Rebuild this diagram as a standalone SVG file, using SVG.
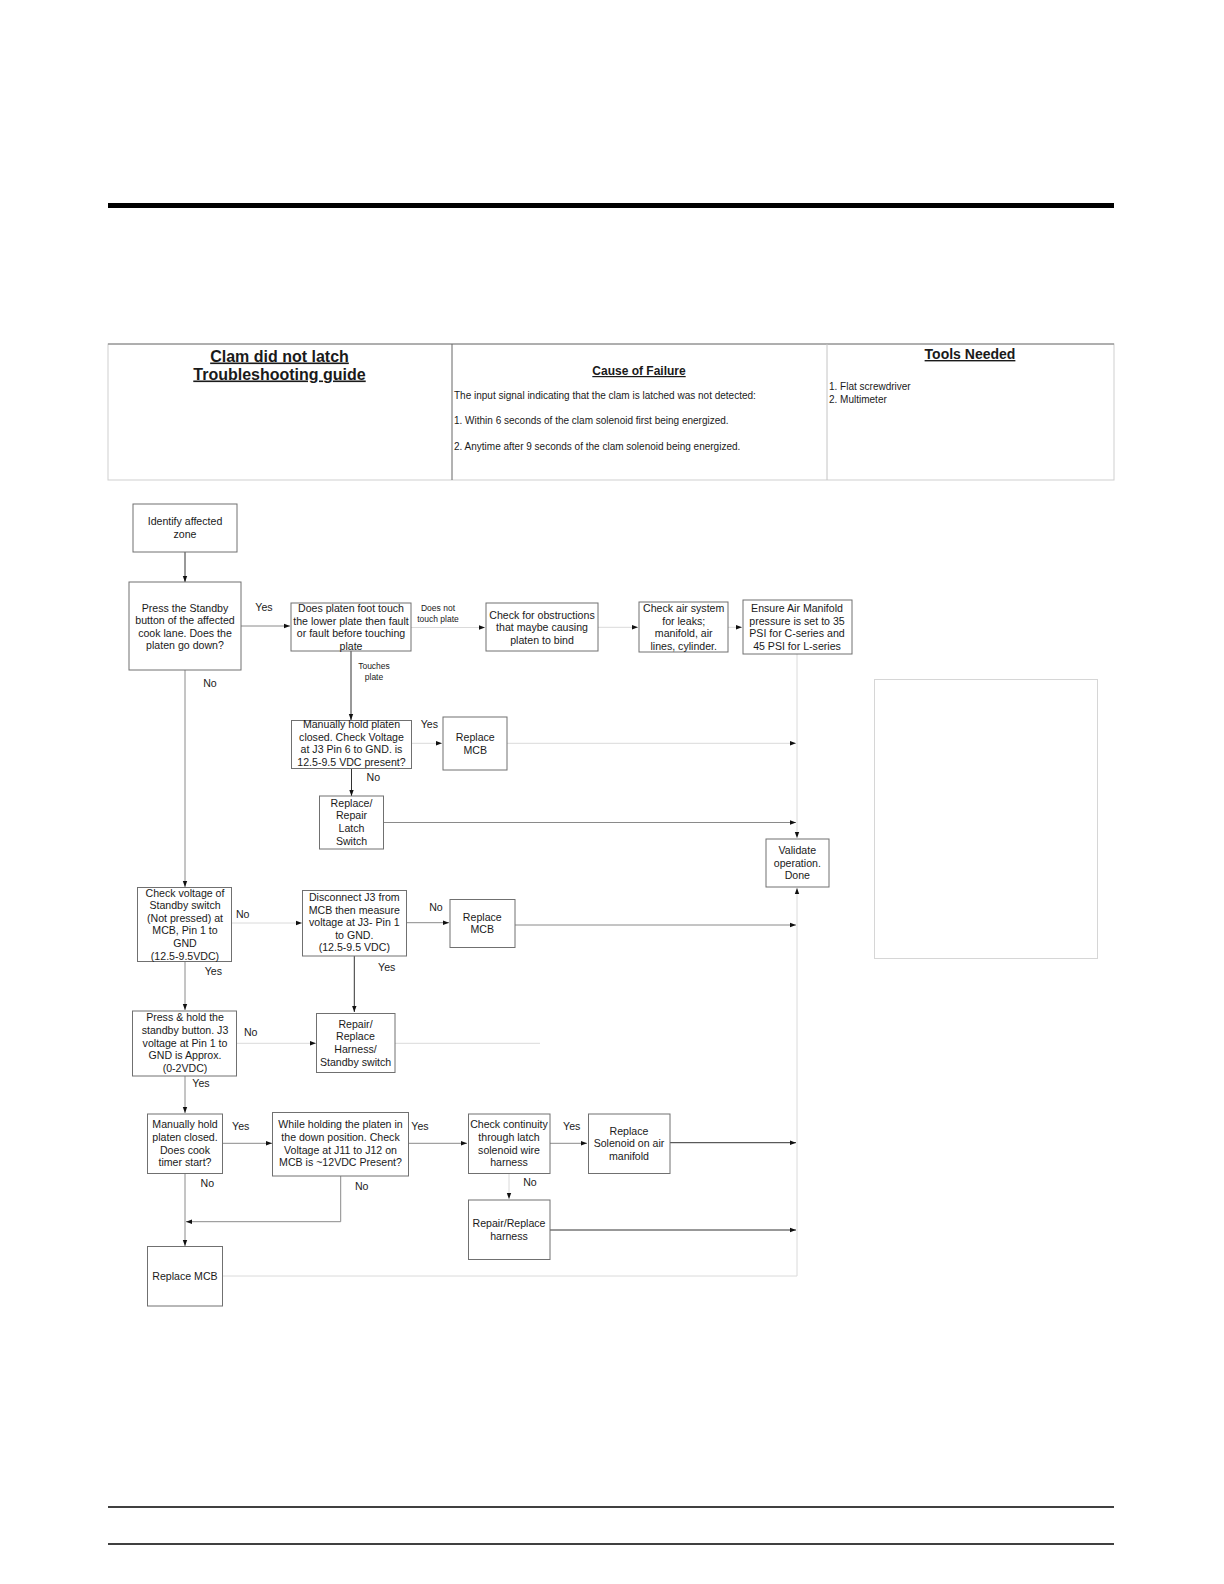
<svg xmlns="http://www.w3.org/2000/svg" width="1224" height="1584" viewBox="0 0 1224 1584">
<style>
text{font-family:"Liberation Sans",Arial,sans-serif;fill:#1a1a1a}
.t{font-size:10.6px;text-anchor:middle}
.lb{font-size:10.6px;text-anchor:middle}
.sm{font-size:8.5px;text-anchor:middle}
.body{font-size:10px}
.h{font-weight:bold;text-decoration:underline;text-anchor:middle}
.box{fill:#fff;stroke:#707070;stroke-width:1}
.c{fill:none;stroke:#333;stroke-width:1;marker-end:url(#ah)}
.g{fill:none;stroke:#8a8a8a;stroke-width:1;marker-end:url(#ah)}
.l{fill:none;stroke:#dadada;stroke-width:1;marker-end:url(#ah)}
.ln{fill:none;stroke:#dadada;stroke-width:1}
</style>
<defs>
<marker id="ah" viewBox="0 0 6 6" refX="6" refY="3" markerWidth="6" markerHeight="6" markerUnits="userSpaceOnUse" orient="auto">
<path d="M0,0.8 L6,3 L0,5.2 Z" fill="#111"/>
</marker>
</defs>
<rect width="1224" height="1584" fill="#fff"/>

<g id="page-rules">
<rect x="108" y="203" width="1006" height="5" fill="#000"/>
<line x1="108" y1="1507" x2="1114" y2="1507" stroke="#000" stroke-width="1.5"/>
<line x1="108" y1="1544" x2="1114" y2="1544" stroke="#000" stroke-width="1.5"/>
</g>

<g id="header">
<rect x="108" y="344" width="1006" height="136" fill="#fff" stroke="#cfcfcf" stroke-width="1"/>
<line x1="108" y1="344" x2="1114" y2="344" stroke="#777" stroke-width="1"/>
<line x1="452" y1="344" x2="452" y2="480" stroke="#666" stroke-width="1"/>
<line x1="827" y1="344" x2="827" y2="480" stroke="#c4c4c4" stroke-width="1"/>
<text class="h" x="279.5" y="361.5" font-size="16">Clam did not latch</text>
<text class="h" x="279.5" y="379.5" font-size="16">Troubleshooting guide</text>
<text class="h" x="639" y="375" font-size="12">Cause of Failure</text>
<text class="body" x="454" y="399">The input signal indicating that the clam is latched was not detected:</text>
<text class="body" x="454" y="424">1. Within 6 seconds of the clam solenoid first being energized.</text>
<text class="body" x="454" y="449.5">2. Anytime after 9 seconds of the clam solenoid being energized.</text>
<text class="h" x="970" y="359" font-size="14">Tools Needed</text>
<text class="body" x="829" y="389.5">1. Flat screwdriver</text>
<text class="body" x="829" y="403">2. Multimeter</text>
</g>

<g id="connectors">
<path class="c" d="M185,552 V582"/>
<path class="g" d="M241,626 H290"/>
<path class="l" d="M411,627.5 H485"/>
<path class="l" d="M598,627.3 H638"/>
<path class="l" d="M728,627.3 H742"/>
<path class="l" d="M797,654 V838"/>
<path class="c" d="M351,651 V720"/>
<path class="l" d="M412,743.3 H442"/>
<path class="l" d="M507,743.3 H796"/>
<path class="c" d="M351.5,768 V796"/>
<path class="g" d="M383,822.5 H796"/>
<path class="g" d="M185,670 V887"/>
<path class="l" d="M232,923 H302"/>
<path class="g" d="M407,922.7 H449"/>
<path class="g" d="M515,925 H796"/>
<path class="c" d="M354.3,956 V1012"/>
<path class="g" d="M185,962 V1010"/>
<path class="l" d="M237,1043.3 H316"/>
<path class="ln" d="M395,1043.3 H540"/>
<path class="g" d="M185,1076 V1113"/>
<path class="g" d="M223,1143.3 H272"/>
<path class="g" d="M408,1143.3 H467"/>
<path class="g" d="M550,1143.3 H587"/>
<path class="c" d="M670,1142.7 H796"/>
<path class="l" d="M509,1173 V1199"/>
<path class="c" d="M550,1230 H796"/>
<path class="g" d="M340.7,1176 V1221.7 H186"/>
<path class="g" d="M185,1173 V1246"/>
<path class="l" d="M223,1276 H797 V888"/>
</g>

<g id="n-identify">
<rect class="box" x="133" y="504" width="104" height="48"/>
<text class="t" x="185" y="524.8">Identify affected</text>
<text class="t" x="185" y="538">zone</text>
</g>

<g id="n-press-standby">
<rect class="box" x="129" y="582" width="112" height="88"/>
<text class="t" x="185" y="611.5">Press the Standby</text>
<text class="t" x="185" y="624.1">button of the affected</text>
<text class="t" x="185" y="636.7">cook lane. Does the</text>
<text class="t" x="185" y="649.3">platen go down?</text>
</g>

<g id="n-platen-foot">
<rect class="box" x="291" y="603" width="120" height="48"/>
<text class="t" x="351" y="612">Does platen foot touch</text>
<text class="t" x="351" y="624.6">the lower plate then fault</text>
<text class="t" x="351" y="637.2">or fault before touching</text>
<text class="t" x="351" y="649.8">plate</text>
</g>

<g id="n-obstructions">
<rect class="box" x="486" y="603" width="112" height="48"/>
<text class="t" x="542" y="618.8">Check for obstructions</text>
<text class="t" x="542" y="631.4">that maybe causing</text>
<text class="t" x="542" y="644">platen to bind</text>
</g>

<g id="n-air-system">
<rect class="box" x="639" y="602" width="89" height="50"/>
<text class="t" x="683.7" y="612">Check air system</text>
<text class="t" x="683.7" y="624.6">for leaks;</text>
<text class="t" x="683.7" y="637.2">manifold, air</text>
<text class="t" x="683.7" y="649.8">lines, cylinder.</text>
</g>

<g id="n-air-manifold">
<rect class="box" x="743" y="600" width="109" height="54"/>
<text class="t" x="797" y="612">Ensure Air Manifold</text>
<text class="t" x="797" y="624.6">pressure is set to 35</text>
<text class="t" x="797" y="637.2">PSI for C-series and</text>
<text class="t" x="797" y="649.8">45 PSI for L-series</text>
</g>

<g id="n-hold-platen-j3">
<rect class="box" x="291.5" y="720.5" width="120" height="48"/>
<text class="t" x="351.5" y="728">Manually hold platen</text>
<text class="t" x="351.5" y="740.7">closed. Check Voltage</text>
<text class="t" x="351.5" y="753.4">at J3 Pin 6 to GND. is</text>
<text class="t" x="351.5" y="766.1">12.5-9.5 VDC present?</text>
</g>

<g id="n-replace-mcb-1">
<rect class="box" x="443" y="717" width="64" height="53"/>
<text class="t" x="475.3" y="741">Replace</text>
<text class="t" x="475.3" y="753.7">MCB</text>
</g>

<g id="n-latch-switch">
<rect class="box" x="319.5" y="796" width="64" height="53"/>
<text class="t" x="351.5" y="806.5">Replace/</text>
<text class="t" x="351.5" y="819.2">Repair</text>
<text class="t" x="351.5" y="831.9">Latch</text>
<text class="t" x="351.5" y="844.6">Switch</text>
</g>

<g id="n-validate">
<rect class="box" x="766" y="839" width="63" height="48"/>
<text class="t" x="797.3" y="853.8">Validate</text>
<text class="t" x="797.3" y="866.5">operation.</text>
<text class="t" x="797.3" y="879.2">Done</text>
</g>

<g id="n-blank-panel">
<rect x="874.5" y="679.5" width="223" height="279" fill="#fff" stroke="#d6d6d6" stroke-width="1"/>
</g>

<g id="n-check-standby-voltage">
<rect class="box" x="137.5" y="887.5" width="94" height="74"/>
<text class="t" x="185" y="896.5">Check voltage of</text>
<text class="t" x="185" y="909.1">Standby switch</text>
<text class="t" x="185" y="921.7">(Not pressed) at</text>
<text class="t" x="185" y="934.3">MCB, Pin 1 to</text>
<text class="t" x="185" y="946.9">GND</text>
<text class="t" x="185" y="959.5">(12.5-9.5VDC)</text>
</g>

<g id="n-disconnect-j3">
<rect class="box" x="302.5" y="890.5" width="104" height="65.5"/>
<text class="t" x="354.3" y="901">Disconnect J3 from</text>
<text class="t" x="354.3" y="913.6">MCB then measure</text>
<text class="t" x="354.3" y="926.2">voltage at J3- Pin 1</text>
<text class="t" x="354.3" y="938.8">to GND.</text>
<text class="t" x="354.3" y="951.4">(12.5-9.5 VDC)</text>
</g>

<g id="n-replace-mcb-2">
<rect class="box" x="450" y="899.5" width="65" height="48"/>
<text class="t" x="482.3" y="920.5">Replace</text>
<text class="t" x="482.3" y="933.2">MCB</text>
</g>

<g id="n-repair-harness-switch">
<rect class="box" x="316.5" y="1013.5" width="78.5" height="59"/>
<text class="t" x="355.5" y="1027.8">Repair/</text>
<text class="t" x="355.5" y="1040.4">Replace</text>
<text class="t" x="355.5" y="1053">Harness/</text>
<text class="t" x="355.5" y="1065.6">Standby switch</text>
</g>

<g id="n-press-hold">
<rect class="box" x="132.5" y="1011" width="104" height="65"/>
<text class="t" x="185" y="1021">Press &amp; hold the</text>
<text class="t" x="185" y="1033.8">standby button. J3</text>
<text class="t" x="185" y="1046.6">voltage at Pin 1 to</text>
<text class="t" x="185" y="1059.4">GND is Approx.</text>
<text class="t" x="185" y="1072.2">(0-2VDC)</text>
</g>

<g id="n-cook-timer">
<rect class="box" x="147.5" y="1114" width="75" height="59.5"/>
<text class="t" x="185" y="1128">Manually hold</text>
<text class="t" x="185" y="1140.8">platen closed.</text>
<text class="t" x="185" y="1153.6">Does cook</text>
<text class="t" x="185" y="1166.4">timer start?</text>
</g>

<g id="n-j11-j12">
<rect class="box" x="272.5" y="1112.5" width="136" height="63.5"/>
<text class="t" x="340.5" y="1128">While holding the platen in</text>
<text class="t" x="340.5" y="1140.8">the down position. Check</text>
<text class="t" x="340.5" y="1153.6">Voltage at J11 to J12 on</text>
<text class="t" x="340.5" y="1166.4">MCB is ~12VDC Present?</text>
</g>

<g id="n-continuity">
<rect class="box" x="468.5" y="1114" width="81.5" height="59.5"/>
<text class="t" x="509" y="1128">Check continuity</text>
<text class="t" x="509" y="1140.8">through latch</text>
<text class="t" x="509" y="1153.6">solenoid wire</text>
<text class="t" x="509" y="1166.4">harness</text>
</g>

<g id="n-solenoid">
<rect class="box" x="588.5" y="1114" width="81.5" height="59.5"/>
<text class="t" x="629" y="1134.5">Replace</text>
<text class="t" x="629" y="1147.2">Solenoid on air</text>
<text class="t" x="629" y="1159.9">manifold</text>
</g>

<g id="n-repair-harness">
<rect class="box" x="468.5" y="1200" width="81.5" height="59.5"/>
<text class="t" x="509" y="1227">Repair/Replace</text>
<text class="t" x="509" y="1239.6">harness</text>
</g>

<g id="n-replace-mcb-3">
<rect class="box" x="147.5" y="1246.5" width="75" height="59.5"/>
<text class="t" x="185" y="1279.8">Replace MCB</text>
</g>

<g id="labels">
<text class="lb" x="264" y="610.5">Yes</text>
<text class="sm" x="438" y="611">Does not</text>
<text class="sm" x="438" y="622">touch plate</text>
<text class="sm" x="374" y="668.7">Touches</text>
<text class="sm" x="374" y="679.7">plate</text>
<text class="lb" x="210" y="687">No</text>
<text class="lb" x="429.3" y="727.8">Yes</text>
<text class="lb" x="373.3" y="781">No</text>
<text class="lb" x="242.7" y="918">No</text>
<text class="lb" x="436" y="910.5">No</text>
<text class="lb" x="386.7" y="970.5">Yes</text>
<text class="lb" x="213.3" y="974.8">Yes</text>
<text class="lb" x="250.7" y="1035.5">No</text>
<text class="lb" x="201" y="1086.8">Yes</text>
<text class="lb" x="240.7" y="1129.8">Yes</text>
<text class="lb" x="420" y="1129.8">Yes</text>
<text class="lb" x="571.7" y="1129.8">Yes</text>
<text class="lb" x="207.3" y="1186.5">No</text>
<text class="lb" x="361.7" y="1189.8">No</text>
<text class="lb" x="530" y="1185.5">No</text>
</g>
</svg>
